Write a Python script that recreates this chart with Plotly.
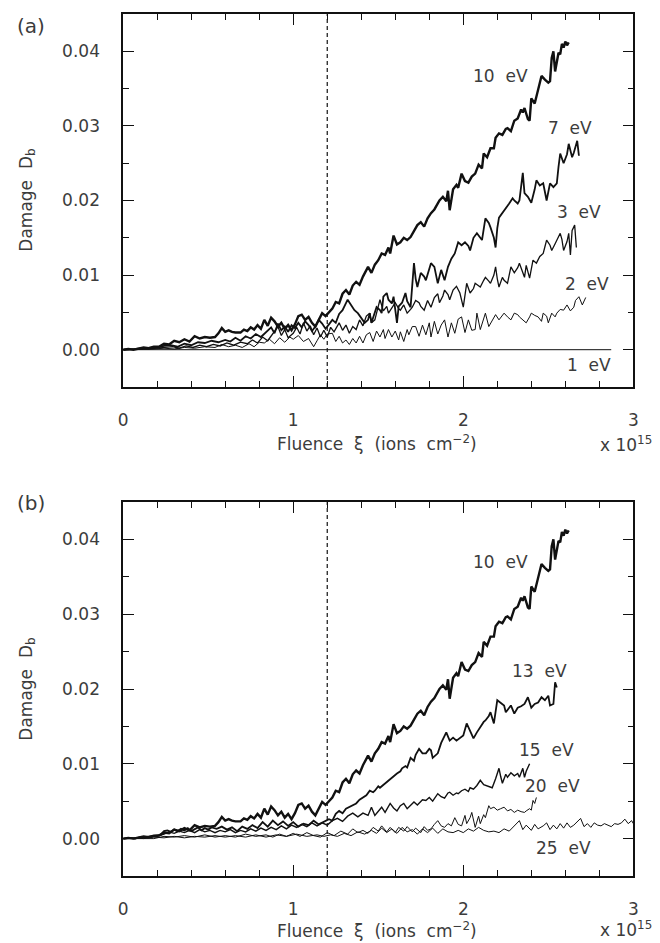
import plotly.graph_objects as go

# ---------------- data ----------------
E10_X = [0.00,0.03,0.06,0.09,0.12,0.15,0.18,0.21,0.24,0.27,0.30,0.33,0.36,0.39,0.42,0.45,0.48,0.51,0.54,0.56,
         0.58,0.60,0.62,0.64,0.66,0.69,0.71,0.73,0.75,0.77,0.79,0.81,0.83,0.85,0.87,0.89,0.91,0.93,0.95,0.97,
         0.99,1.01,1.03,1.05,1.07,1.09,1.11,1.13,1.15,1.17,1.19,1.21,1.23,1.25,1.27,1.29,1.31,1.33,1.35,1.37,
         1.39,1.41,1.43,1.44,1.46,1.48,1.50,1.52,1.54,1.56,1.57,1.59,1.61,1.63,1.65,1.67,1.69,1.71,1.73,1.75,
         1.77,1.79,1.81,1.83,1.85,1.86,1.88,1.90,1.91,1.92,1.94,1.96,1.97,1.99,2.01,2.03,2.05,2.07,2.09,2.11,
         2.12,2.14,2.16,2.18,2.19,2.21,2.23,2.25,2.26,2.28,2.30,2.32,2.34,2.35,2.36,2.38,2.39,2.40,2.42,2.44,
         2.45,2.46,2.48,2.50,2.51,2.52,2.53,2.54,2.56,2.57,2.58,2.59,2.60,2.61,2.62]
E10_Y = [0.0000,0.0001,0.0000,0.0002,0.0003,0.0002,0.0004,0.0004,0.0008,0.0007,0.0012,0.0010,0.0014,0.0011,0.0018,0.0015,0.0017,0.0016,0.0017,0.0022,
         0.0029,0.0024,0.0026,0.0024,0.0023,0.0023,0.0027,0.0025,0.0030,0.0027,0.0033,0.0028,0.0040,0.0032,0.0043,0.0038,0.0031,0.0036,0.0028,0.0033,
         0.0026,0.0034,0.0045,0.0047,0.0040,0.0044,0.0036,0.0031,0.0040,0.0049,0.0045,0.0050,0.0055,0.0064,0.0062,0.0075,0.0080,0.0074,0.0086,0.0091,
         0.0087,0.0098,0.0106,0.0111,0.0103,0.0114,0.0120,0.0129,0.0127,0.0137,0.0129,0.0153,0.0141,0.0144,0.0150,0.0147,0.0151,0.0160,0.0167,0.0171,
         0.0165,0.0176,0.0183,0.0188,0.0196,0.0200,0.0205,0.0199,0.0213,0.0187,0.0215,0.0221,0.0217,0.0236,0.0226,0.0224,0.0232,0.0236,0.0248,0.0243,
         0.0263,0.0258,0.0270,0.0270,0.0284,0.0290,0.0288,0.0296,0.0297,0.0293,0.0307,0.0310,0.0322,0.0318,0.0324,0.0309,0.0307,0.0337,0.0330,0.0350,
         0.0357,0.0367,0.0362,0.0358,0.0360,0.0391,0.0400,0.0373,0.0398,0.0396,0.0410,0.0405,0.0413,0.0408,0.0412]

E7_X = [0.00,0.04,0.08,0.12,0.16,0.20,0.24,0.28,0.32,0.36,0.40,0.44,0.48,0.52,0.56,0.60,0.63,0.66,0.69,0.72,
        0.75,0.78,0.81,0.84,0.87,0.89,0.91,0.93,0.95,0.97,0.99,1.01,1.03,1.05,1.07,1.09,1.11,1.13,1.15,1.17,
        1.19,1.21,1.23,1.25,1.27,1.29,1.31,1.32,1.34,1.36,1.38,1.40,1.42,1.44,1.45,1.46,1.48,1.49,1.51,1.52,
        1.53,1.55,1.56,1.58,1.59,1.61,1.62,1.64,1.66,1.67,1.69,1.71,1.72,1.73,1.75,1.77,1.78,1.80,1.81,1.83,
        1.85,1.87,1.89,1.91,1.93,1.95,1.97,1.99,2.01,2.03,2.04,2.06,2.08,2.10,2.11,2.13,2.15,2.16,2.18,2.19,
        2.20,2.21,2.23,2.25,2.27,2.29,2.30,2.32,2.33,2.35,2.36,2.38,2.40,2.42,2.43,2.45,2.47,2.49,2.51,2.53,
        2.55,2.56,2.57,2.59,2.61,2.62,2.64,2.65,2.66,2.67,2.68]
E7_Y = [0.0000,0.0001,0.0001,0.0002,0.0002,0.0003,0.0005,0.0006,0.0004,0.0008,0.0006,0.0010,0.0009,0.0012,0.0010,0.0013,0.0011,0.0016,0.0012,0.0018,
        0.0015,0.0021,0.0017,0.0024,0.0030,0.0022,0.0035,0.0026,0.0031,0.0024,0.0033,0.0029,0.0036,0.0030,0.0038,0.0033,0.0025,0.0031,0.0040,0.0035,
        0.0028,0.0034,0.0040,0.0036,0.0048,0.0053,0.0062,0.0067,0.0060,0.0053,0.0049,0.0043,0.0036,0.0040,0.0049,0.0036,0.0052,0.0057,0.0053,0.0049,
        0.0071,0.0076,0.0067,0.0062,0.0071,0.0036,0.0058,0.0063,0.0076,0.0065,0.0057,0.0116,0.0095,0.0084,0.0103,0.0098,0.0093,0.0110,0.0116,0.0111,
        0.0089,0.0107,0.0093,0.0111,0.0122,0.0129,0.0144,0.0140,0.0144,0.0139,0.0133,0.0150,0.0156,0.0150,0.0147,0.0176,0.0170,0.0164,0.0150,0.0137,
        0.0163,0.0177,0.0183,0.0190,0.0196,0.0203,0.0200,0.0196,0.0200,0.0237,0.0210,0.0205,0.0197,0.0215,0.0227,0.0220,0.0223,0.0200,0.0223,0.0218,
        0.0223,0.0245,0.0263,0.0250,0.0262,0.0276,0.0258,0.0264,0.0272,0.0280,0.0260]

E3_X = [0.00,0.05,0.10,0.15,0.20,0.25,0.29,0.33,0.37,0.41,0.45,0.49,0.53,0.57,0.61,0.65,0.69,0.73,0.76,0.79,
        0.82,0.85,0.88,0.91,0.93,0.95,0.97,1.00,1.02,1.04,1.06,1.08,1.10,1.12,1.14,1.16,1.18,1.20,1.22,1.24,
        1.27,1.29,1.31,1.33,1.35,1.37,1.39,1.41,1.43,1.45,1.46,1.48,1.50,1.51,1.53,1.55,1.56,1.58,1.60,1.62,
        1.63,1.65,1.67,1.69,1.70,1.72,1.74,1.75,1.77,1.79,1.81,1.83,1.85,1.86,1.88,1.89,1.91,1.92,1.94,1.96,
        1.98,2.00,2.02,2.04,2.06,2.07,2.09,2.10,2.12,2.13,2.15,2.16,2.18,2.19,2.20,2.21,2.23,2.24,2.26,2.28,
        2.30,2.32,2.33,2.35,2.36,2.37,2.38,2.39,2.41,2.43,2.45,2.47,2.48,2.49,2.51,2.52,2.54,2.55,2.57,2.58,
        2.59,2.61,2.62,2.63,2.64,2.655,2.665]
E3_Y = [0.0000,0.0000,0.0001,0.0001,0.0002,0.0003,0.0004,0.0002,0.0005,0.0003,0.0006,0.0004,0.0007,0.0005,0.0009,0.0006,0.0010,0.0008,0.0013,0.0009,
        0.0017,0.0012,0.0021,0.0031,0.0019,0.0027,0.0016,0.0022,0.0030,0.0021,0.0036,0.0025,0.0032,0.0020,0.0029,0.0017,0.0026,0.0017,0.0030,0.0024,
        0.0036,0.0026,0.0033,0.0022,0.0031,0.0027,0.0040,0.0032,0.0045,0.0049,0.0036,0.0040,0.0058,0.0067,0.0052,0.0058,0.0049,0.0056,0.0063,0.0055,
        0.0053,0.0060,0.0049,0.0054,0.0057,0.0066,0.0063,0.0058,0.0053,0.0066,0.0057,0.0070,0.0075,0.0063,0.0072,0.0080,0.0074,0.0067,0.0080,0.0085,
        0.0076,0.0057,0.0089,0.0076,0.0082,0.0089,0.0086,0.0084,0.0093,0.0097,0.0092,0.0089,0.0100,0.0111,0.0095,0.0084,0.0097,0.0093,0.0089,0.0111,
        0.0103,0.0110,0.0116,0.0105,0.0097,0.0113,0.0103,0.0096,0.0120,0.0116,0.0125,0.0129,0.0138,0.0147,0.0140,0.0133,0.0142,0.0147,0.0156,0.0148,
        0.0133,0.0145,0.0156,0.0127,0.0160,0.0167,0.0137]

E2_X = [0.00,0.06,0.12,0.18,0.24,0.30,0.36,0.42,0.48,0.54,0.58,0.62,0.66,0.70,0.74,0.77,0.80,0.83,0.86,0.89,
        0.92,0.95,0.98,1.00,1.03,1.06,1.09,1.12,1.14,1.16,1.18,1.20,1.23,1.25,1.27,1.29,1.31,1.33,1.35,1.37,
        1.39,1.41,1.43,1.45,1.47,1.49,1.51,1.53,1.54,1.56,1.58,1.60,1.62,1.63,1.65,1.67,1.68,1.70,1.72,1.74,
        1.76,1.78,1.80,1.81,1.83,1.85,1.87,1.89,1.91,1.93,1.95,1.97,1.99,2.01,2.03,2.05,2.07,2.08,2.10,2.12,
        2.13,2.15,2.17,2.19,2.21,2.23,2.24,2.26,2.28,2.30,2.32,2.33,2.35,2.37,2.39,2.40,2.42,2.44,2.46,2.47,
        2.49,2.50,2.52,2.54,2.55,2.57,2.59,2.61,2.63,2.65,2.66,2.68,2.70,2.72]
E2_Y = [0.0000,0.0000,0.0001,0.0001,0.0002,0.0001,0.0003,0.0002,0.0004,0.0003,0.0007,0.0004,0.0006,0.0003,0.0008,0.0004,0.0010,0.0009,0.0014,0.0008,
        0.0016,0.0010,0.0017,0.0014,0.0019,0.0011,0.0015,0.0004,0.0012,0.0020,0.0014,0.0021,0.0022,0.0011,0.0018,0.0009,0.0013,0.0007,0.0015,0.0009,
        0.0018,0.0009,0.0020,0.0023,0.0011,0.0025,0.0017,0.0027,0.0015,0.0027,0.0017,0.0025,0.0013,0.0024,0.0011,0.0027,0.0020,0.0031,0.0031,0.0018,
        0.0033,0.0020,0.0036,0.0017,0.0038,0.0021,0.0033,0.0040,0.0017,0.0036,0.0022,0.0041,0.0044,0.0023,0.0040,0.0026,0.0027,0.0049,0.0027,0.0044,
        0.0049,0.0031,0.0040,0.0047,0.0040,0.0046,0.0049,0.0044,0.0040,0.0049,0.0047,0.0044,0.0040,0.0036,0.0044,0.0049,0.0046,0.0044,0.0038,0.0049,
        0.0045,0.0036,0.0049,0.0044,0.0049,0.0054,0.0053,0.0060,0.0052,0.0057,0.0066,0.0071,0.0060,0.0070]

E1_X = [0.00, 2.87]
E1_Y = [0.0, 0.0]

E13_X = [0.00,0.04,0.07,0.10,0.13,0.16,0.19,0.22,0.24,0.26,0.28,0.30,0.32,0.34,0.36,0.38,0.40,0.42,0.44,0.46,
         0.48,0.50,0.52,0.55,0.58,0.61,0.64,0.67,0.70,0.73,0.76,0.79,0.82,0.85,0.88,0.91,0.94,0.97,1.00,1.03,
         1.06,1.09,1.12,1.15,1.18,1.21,1.23,1.25,1.27,1.29,1.31,1.33,1.35,1.37,1.39,1.41,1.43,1.45,1.47,1.48,
         1.50,1.51,1.53,1.55,1.57,1.59,1.61,1.63,1.64,1.66,1.67,1.69,1.71,1.72,1.74,1.76,1.78,1.80,1.81,1.82,
         1.84,1.85,1.87,1.89,1.90,1.92,1.94,1.96,1.98,2.00,2.02,2.04,2.06,2.08,2.10,2.12,2.13,2.15,2.16,2.17,
         2.18,2.20,2.22,2.24,2.25,2.27,2.28,2.30,2.32,2.34,2.36,2.38,2.40,2.42,2.44,2.46,2.48,2.50,2.51,2.53,
         2.54,2.55]
E13_Y = [0.0000,0.0001,0.0000,0.0002,0.0002,0.0003,0.0004,0.0005,0.0010,0.0011,0.0009,0.0012,0.0010,0.0013,0.0011,0.0014,0.0010,0.0013,0.0015,0.0011,
         0.0014,0.0012,0.0015,0.0013,0.0016,0.0012,0.0015,0.0010,0.0016,0.0013,0.0018,0.0014,0.0022,0.0016,0.0024,0.0018,0.0023,0.0017,0.0022,0.0016,
         0.0020,0.0018,0.0024,0.0019,0.0022,0.0026,0.0024,0.0033,0.0037,0.0034,0.0040,0.0042,0.0045,0.0047,0.0052,0.0055,0.0058,0.0064,0.0062,0.0064,
         0.0070,0.0068,0.0072,0.0075,0.0079,0.0083,0.0087,0.0090,0.0094,0.0097,0.0095,0.0108,0.0104,0.0112,0.0120,0.0114,0.0114,0.0120,0.0118,0.0108,
         0.0112,0.0114,0.0128,0.0136,0.0142,0.0131,0.0135,0.0131,0.0135,0.0138,0.0154,0.0145,0.0134,0.0142,0.0150,0.0156,0.0158,0.0164,0.0169,0.0162,
         0.0154,0.0185,0.0182,0.0178,0.0169,0.0175,0.0178,0.0167,0.0175,0.0177,0.0180,0.0189,0.0175,0.0180,0.0182,0.0189,0.0185,0.0191,0.0178,0.0180,
         0.0209,0.0202]

E15_X = [0.00,0.05,0.10,0.15,0.20,0.24,0.27,0.30,0.33,0.36,0.39,0.42,0.45,0.48,0.51,0.54,0.57,0.60,0.63,0.66,
         0.69,0.72,0.75,0.78,0.81,0.84,0.87,0.90,0.93,0.96,0.99,1.02,1.05,1.08,1.11,1.14,1.17,1.20,1.23,1.26,
         1.29,1.32,1.35,1.38,1.41,1.44,1.46,1.48,1.50,1.52,1.54,1.56,1.57,1.59,1.61,1.63,1.65,1.67,1.69,1.71,
         1.73,1.74,1.76,1.78,1.80,1.82,1.84,1.85,1.87,1.89,1.91,1.92,1.94,1.96,1.97,1.99,2.01,2.03,2.04,2.06,
         2.08,2.10,2.12,2.13,2.15,2.17,2.19,2.21,2.22,2.23,2.25,2.26,2.28,2.30,2.32,2.33,2.35,2.36,2.37,2.38,
         2.39]
E15_Y = [0.0000,0.0000,0.0001,0.0002,0.0003,0.0006,0.0009,0.0007,0.0010,0.0008,0.0011,0.0008,0.0012,0.0009,0.0011,0.0008,0.0011,0.0009,0.0012,0.0008,
         0.0011,0.0009,0.0013,0.0010,0.0014,0.0011,0.0015,0.0012,0.0017,0.0013,0.0018,0.0015,0.0019,0.0016,0.0021,0.0017,0.0021,0.0018,0.0024,0.0027,
         0.0023,0.0030,0.0034,0.0029,0.0034,0.0031,0.0042,0.0031,0.0036,0.0042,0.0035,0.0042,0.0047,0.0041,0.0037,0.0044,0.0047,0.0040,0.0044,0.0049,
         0.0045,0.0047,0.0052,0.0051,0.0055,0.0050,0.0058,0.0060,0.0056,0.0054,0.0061,0.0062,0.0058,0.0061,0.0060,0.0064,0.0066,0.0063,0.0068,0.0066,
         0.0071,0.0078,0.0072,0.0071,0.0070,0.0068,0.0080,0.0094,0.0083,0.0074,0.0086,0.0082,0.0088,0.0084,0.0087,0.0082,0.0094,0.0082,0.0090,0.0096,
         0.0100]

E20_X = [0.00,0.06,0.12,0.18,0.24,0.30,0.36,0.42,0.48,0.54,0.60,0.66,0.72,0.78,0.84,0.88,0.92,0.96,1.00,1.04,
         1.08,1.12,1.16,1.20,1.24,1.28,1.32,1.35,1.38,1.41,1.44,1.47,1.50,1.52,1.55,1.57,1.60,1.62,1.65,1.67,
         1.70,1.72,1.75,1.77,1.79,1.81,1.83,1.85,1.87,1.89,1.91,1.93,1.95,1.97,1.99,2.01,2.02,2.04,2.05,2.07,
         2.09,2.10,2.12,2.13,2.15,2.16,2.18,2.20,2.22,2.24,2.26,2.28,2.30,2.32,2.34,2.36,2.37,2.39,2.40,2.41,
         2.42,2.43]
E20_Y = [0.0000,0.0000,0.0001,0.0000,0.0003,0.0002,0.0004,0.0002,0.0005,0.0002,0.0004,0.0002,0.0006,0.0003,0.0005,0.0002,0.0006,0.0003,0.0007,0.0003,
         0.0008,0.0004,0.0002,0.0008,0.0004,0.0010,0.0006,0.0013,0.0008,0.0011,0.0007,0.0015,0.0010,0.0017,0.0009,0.0015,0.0008,0.0015,0.0010,0.0016,
         0.0009,0.0014,0.0008,0.0016,0.0011,0.0013,0.0019,0.0024,0.0017,0.0015,0.0020,0.0017,0.0028,0.0019,0.0017,0.0031,0.0020,0.0028,0.0035,0.0015,
         0.0030,0.0020,0.0032,0.0028,0.0044,0.0040,0.0042,0.0038,0.0040,0.0042,0.0037,0.0039,0.0035,0.0038,0.0036,0.0035,0.0037,0.0040,0.0038,0.0051,
         0.0047,0.0055]

E25_X = [0.00,0.06,0.12,0.18,0.24,0.30,0.36,0.42,0.48,0.54,0.60,0.66,0.72,0.78,0.84,0.90,0.96,1.02,1.08,1.14,
         1.18,1.22,1.26,1.30,1.34,1.38,1.42,1.46,1.49,1.52,1.55,1.58,1.61,1.64,1.67,1.70,1.73,1.76,1.79,1.82,
         1.85,1.88,1.91,1.94,1.97,2.00,2.03,2.06,2.09,2.12,2.15,2.18,2.21,2.24,2.27,2.30,2.33,2.35,2.37,2.40,
         2.42,2.44,2.47,2.49,2.51,2.53,2.55,2.57,2.59,2.61,2.63,2.65,2.67,2.69,2.71,2.73,2.75,2.77,2.79,2.81,
         2.83,2.85,2.87,2.89,2.91,2.93,2.95,2.97,2.99,3.00]
E25_Y = [0.0000,0.0001,0.0000,0.0002,0.0001,0.0003,0.0001,0.0003,0.0002,0.0004,0.0002,0.0004,0.0002,0.0005,0.0002,0.0005,0.0003,0.0006,0.0003,0.0005,
         0.0003,0.0005,0.0003,0.0007,0.0004,0.0009,0.0006,0.0011,0.0007,0.0014,0.0008,0.0013,0.0007,0.0015,0.0009,0.0012,0.0006,0.0013,0.0008,0.0014,
         0.0007,0.0013,0.0009,0.0008,0.0011,0.0008,0.0013,0.0010,0.0015,0.0011,0.0009,0.0010,0.0008,0.0013,0.0010,0.0017,0.0024,0.0012,0.0018,0.0011,
         0.0019,0.0013,0.0017,0.0021,0.0012,0.0018,0.0013,0.0020,0.0014,0.0021,0.0015,0.0018,0.0022,0.0027,0.0016,0.0020,0.0015,0.0021,0.0018,0.0017,
         0.0020,0.0018,0.0016,0.0020,0.0019,0.0021,0.0026,0.0020,0.0024,0.0020]

# curve labels: (text, x, y) in data units, right-anchored
LABELS_A = [("10", 2.39, 0.0367), ("7", 2.77, 0.0297), ("3", 2.82, 0.0184), ("2", 2.87, 0.0088), ("1", 2.88, -0.0020)]
LABELS_B = [("10", 2.39, 0.0370), ("13", 2.62, 0.0224), ("15", 2.66, 0.0119), ("20", 2.70, 0.0070), ("25", 2.76, -0.0013)]

X_TICKS = [0, 1, 2, 3]
Y_TICKS = [0.00, 0.01, 0.02, 0.03, 0.04]
X_RANGE = [0, 3]
Y_RANGE = [-0.005, 0.045]
VLINE_X = 1.2

# ---------------- figure ----------------
FONT = "DejaVu Sans"
TXT = "#3c3c3c"
fig = go.Figure()

def add(xs, ys, w, xa, ya):
    fig.add_trace(go.Scatter(x=xs, y=ys, mode="lines", xaxis=xa, yaxis=ya,
                             line=dict(color="#111111", width=w), showlegend=False,
                             hoverinfo="skip"))

# panel (a)
add(E1_X, E1_Y, 1.0, "x", "y")
add(E2_X, E2_Y, 1.0, "x", "y")
add(E3_X, E3_Y, 1.3, "x", "y")
add(E7_X, E7_Y, 1.8, "x", "y")
add(E10_X, E10_Y, 2.4, "x", "y")
# panel (b)
add(E25_X, E25_Y, 1.0, "x2", "y2")
add(E20_X, E20_Y, 1.0, "x2", "y2")
add(E15_X, E15_Y, 1.4, "x2", "y2")
add(E13_X, E13_Y, 1.8, "x2", "y2")
add(E10_X, E10_Y, 2.4, "x2", "y2")

W, H = 660, 943
xdom = [120 / W, 638 / W]
ydom_a = [1 - 387 / H, 1 - 14 / H]
ydom_b = [1 - 876 / H, 1 - 502 / H]

tickfont = dict(family=FONT, size=17, color=TXT)
common = dict(showline=True, linecolor="#111111", linewidth=1.6, mirror="allticks",
              ticks="inside", ticklen=11, tickwidth=1.2, tickcolor="#111111",
              showgrid=False, zeroline=False, tickfont=tickfont)

xcfg = dict(common, range=X_RANGE, tickvals=X_TICKS, ticktext=[str(v) for v in X_TICKS],
            minor=dict(ticks="inside", ticklen=6, dtick=0.2, tick0=0, tickwidth=1.1, tickcolor="#111111", showgrid=False),
            ticklabelstandoff=17, domain=xdom)
ycfg = dict(common, range=Y_RANGE, tickvals=Y_TICKS, ticktext=[f"{v:.2f}" for v in Y_TICKS],
            minor=dict(ticks="inside", ticklen=6, dtick=0.005, tick0=0, tickwidth=1.1, tickcolor="#111111", showgrid=False),
            ticklabelstandoff=18)

fig.update_layout(
    width=W, height=H, margin=dict(l=0, r=0, t=0, b=0),
    paper_bgcolor="white", plot_bgcolor="white",
    xaxis=dict(xcfg, anchor="y"),
    yaxis=dict(ycfg, domain=ydom_a, anchor="x"),
    xaxis2=dict(xcfg, anchor="y2"),
    yaxis2=dict(ycfg, domain=ydom_b, anchor="x2"),
)

# dashed reference lines
for xr, yr in (("x", "y domain"), ("x2", "y2 domain")):
    fig.add_shape(type="line", xref=xr, yref=yr, x0=VLINE_X, x1=VLINE_X, y0=0, y1=1,
                  line=dict(color="#111111", width=1.2, dash="4px,3px"))

lab_font = dict(family=FONT, size=17, color=TXT)
nb = "\u00a0"
for (t, x, y) in LABELS_A:
    fig.add_annotation(x=x, y=y, xref="x", yref="y", text=f"{t}{nb}{nb}eV", showarrow=False,
                       xanchor="right", yanchor="middle", font=lab_font)
for (t, x, y) in LABELS_B:
    fig.add_annotation(x=x, y=y, xref="x2", yref="y2", text=f"{t}{nb}{nb}eV", showarrow=False,
                       xanchor="right", yanchor="middle", font=lab_font)

def pap(px, py):
    return px / W, 1 - py / H

for panel, ytop, ymid, ytitle, yexp in (("(a)", 26, 200, 443, 444), ("(b)", 503, 689, 930, 929)):
    x, y = pap(10, ytop)
    fig.add_annotation(x=x, y=y, xref="paper", yref="paper", text=panel, showarrow=False,
                       xanchor="left", yanchor="middle", font=dict(family=FONT, size=20, color=TXT))
    x, y = pap(22, ymid)
    fig.add_annotation(x=x, y=y, xref="paper", yref="paper", text="Damage" + nb + nb + "D<sub>b</sub>",
                       showarrow=False, textangle=-90, xanchor="center", yanchor="middle", font=lab_font)
    x, y = pap(378, ytitle)
    fig.add_annotation(x=x, y=y, xref="paper", yref="paper",
                       text=f"Fluence{nb}{nb}ξ{nb}{nb}(ions{nb}{nb}cm<sup>−2</sup>)",
                       showarrow=False, xanchor="center", yanchor="middle", font=lab_font)
    x, y = pap(659, yexp)
    fig.add_annotation(x=x, y=y, xref="paper", yref="paper", text="x 10<sup>15</sup>",
                       showarrow=False, xanchor="right", yanchor="middle", font=lab_font)

fig.write_html("out.html")
